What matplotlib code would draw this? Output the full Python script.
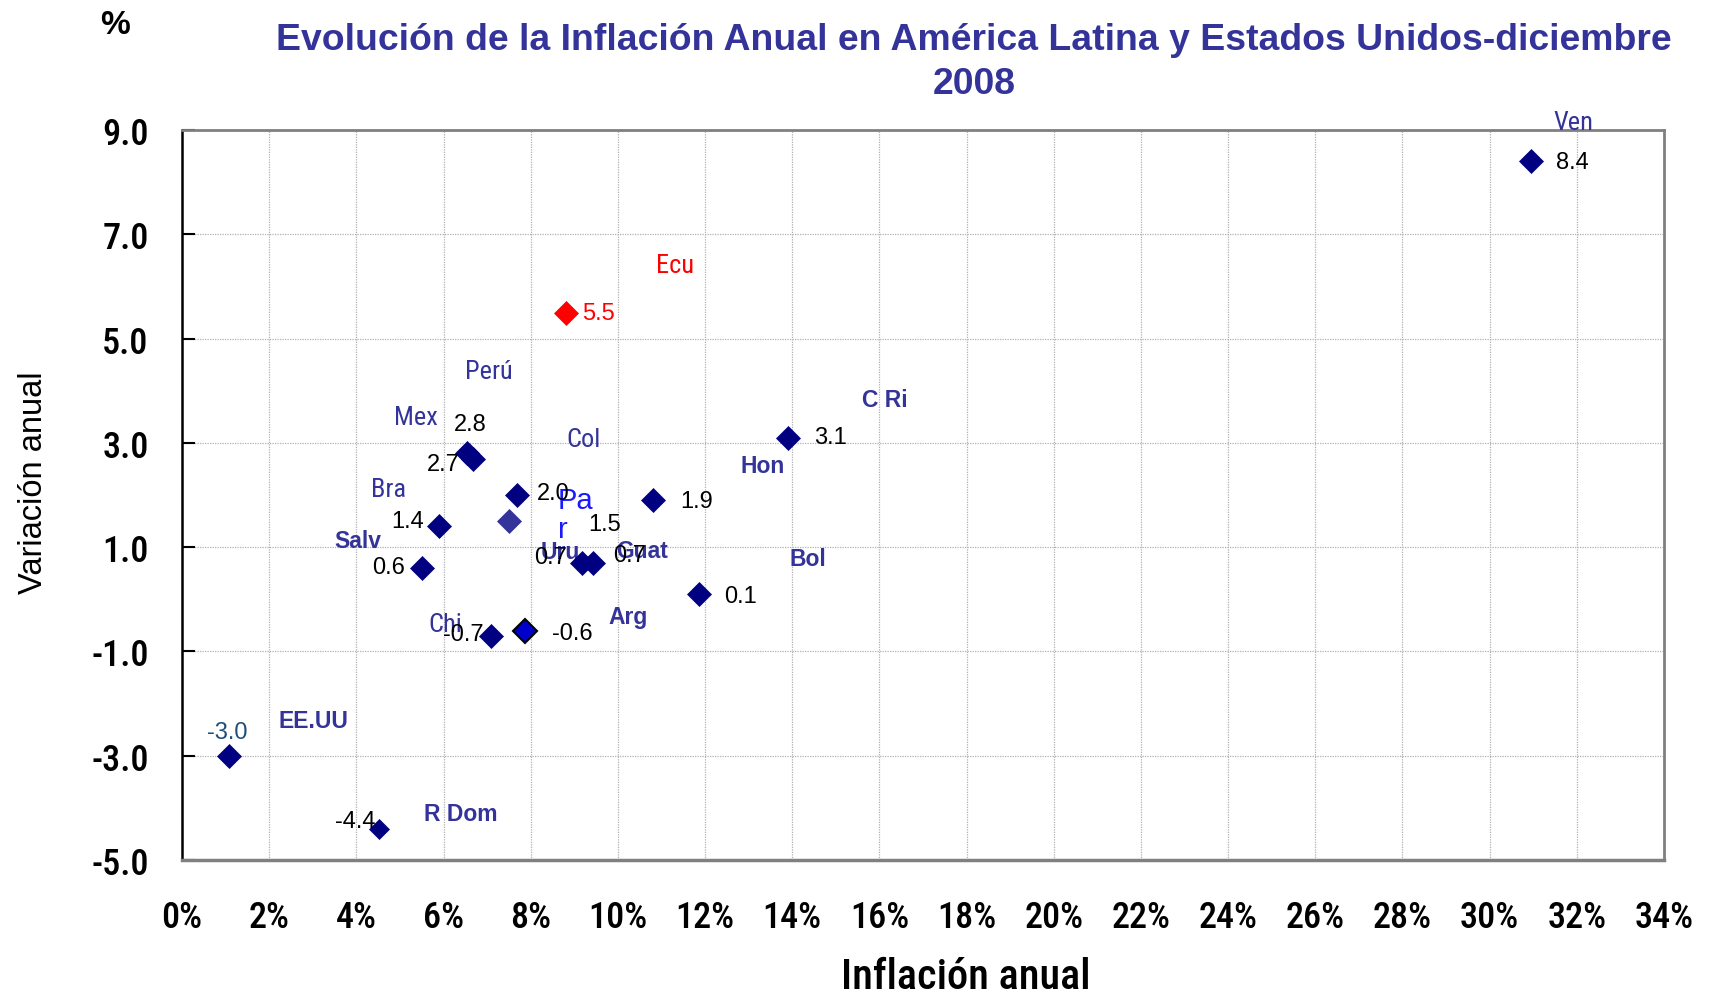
import matplotlib
matplotlib.use("Agg")
import matplotlib.pyplot as plt
from matplotlib.ticker import FuncFormatter

plt.rcParams['font.family'] = ['Liberation Sans', 'DejaVu Sans']
NARROW = ['Roboto Condensed', 'Archivo Narrow', 'Liberation Sans', 'DejaVu Sans']

# data
countries = ["Ven", "Ecu", "Mex", "Perú", "Col", "Par", "Bra", "Salv", "Uru",
             "Guat", "Hon", "C Ri", "Bol", "Chi", "Arg", "EE.UU", "R Dom"]
inflacion = [30.95, 8.82, 6.53, 6.67, 7.68, 7.51, 5.90, 5.50, 9.18,
             9.42, 10.80, 13.90, 11.86, 7.10, 7.88, 1.08, 4.52]
variacion = [8.4, 5.5, 2.8, 2.7, 2.0, 1.5, 1.4, 0.6, 0.7,
             0.7, 1.9, 3.1, 0.1, -0.7, -0.6, -3.0, -4.4]
xticks = list(range(0, 36, 2))
yticks = [-5.0, -3.0, -1.0, 1.0, 3.0, 5.0, 7.0, 9.0]

# layout / style per country
name_pos = {"Ven": (31.93, 9.16), "Ecu": (11.32, 6.41), "Perú": (7.04, 4.38),
            "Mex": (5.36, 3.50), "Col": (9.22, 3.08), "C Ri": (16.13, 3.83),
            "Hon": (13.32, 2.56), "Bra": (4.74, 2.11), "Par": (8.62, 1.62),
            "Salv": (4.03, 1.13), "Guat": (10.56, 0.94), "Uru": (8.69, 0.91),
            "Bol": (14.35, 0.78), "Arg": (10.24, -0.33), "Chi": (6.04, -0.48),
            "EE.UU": (3.01, -2.32), "R Dom": (6.39, -4.10)}
val_off = {"Ven": (41, -1), "Ecu": (32, 0), "Mex": (4, 29), "Perú": (-29, -6),
           "Col": (36, 2), "Par": (95, -3), "Bra": (-32, 5), "Salv": (-33, 1),
           "Uru": (-32, 6), "Guat": (37, 8), "Hon": (44, -1), "C Ri": (43, 1),
           "Bol": (42, -2), "Chi": (-28, 2), "Arg": (47, -2), "EE.UU": (-2, 24),
           "R Dom": (-24, 8)}
bold_names = ["Salv", "EE.UU", "R Dom", "C Ri", "Hon", "Bol", "Guat", "Arg", "Uru"]

NAVY = "#000080"
LABEL = "#333399"

fig = plt.figure(figsize=(17.11, 9.95), dpi=100)
ax = fig.add_axes([182/1711, 1-861/995, (1664-182)/1711, (861-131)/995])

for c, x, y in zip(countries, inflacion, variacion):
    face, edge, ms = NAVY, NAVY, 12.5
    if c == "Ecu":
        face, edge = "red", "red"
    elif c == "Par":
        face, edge = "#333399", "#333399"
    elif c == "Arg":
        face, edge = "#0000cc", "black"
    elif c == "R Dom":
        ms = 10
    ax.plot(x, y, marker="D", ms=ms, mfc=face, mec=edge,
            mew=1.5 if c == "Arg" else 0.5, ls="none", zorder=4)

    vcol = "black"
    if c == "Ecu":
        vcol = "red"
    elif c == "EE.UU":
        vcol = "#1f4e79"
    ax.annotate("%.1f" % y, (x, y), xytext=val_off[c], textcoords="offset pixels",
                ha="center", va="center", fontsize=17, color=vcol, zorder=5)

    nx, ny = name_pos[c]
    if c == "Par":
        ax.text(nx, ny, "Pa\nr", ha="left", va="center", fontsize=21,
                color="#1a1aff", linespacing=1.05, zorder=3)
    elif c in bold_names:
        ax.text(nx, ny, c, ha="center", va="center", fontsize=16.5,
                fontweight="bold", color=LABEL, zorder=3)
    else:
        ax.text(nx, ny, c, ha="center", va="center", fontsize=19,
                family=NARROW, color="red" if c == "Ecu" else LABEL,
                zorder=3, clip_on=False)

ax.set_xlim(0, 34)
ax.set_ylim(-5, 9)
ax.set_xticks(xticks)
ax.set_yticks(yticks)
ax.xaxis.set_major_formatter(FuncFormatter(lambda v, p: "%d%%" % v))
ax.yaxis.set_major_formatter(FuncFormatter(lambda v, p: "%.1f" % v))
ax.grid(True, color="#b0b0b0", ls=(0, (1, 1)), lw=0.9)
ax.set_axisbelow(True)

ax.tick_params(axis="y", direction="in", length=9, width=1.5, color="black", pad=24)
ax.tick_params(axis="x", length=0, pad=28)
for lab in ax.get_xticklabels():
    lab.set_family(NARROW)
    lab.set_fontsize(26)
    lab.set_fontweight("medium")
for lab in ax.get_yticklabels():
    lab.set_family(NARROW)
    lab.set_fontsize(26)
    lab.set_fontweight("medium")

for s in ["top", "right", "bottom"]:
    ax.spines[s].set_color("#808080")
    ax.spines[s].set_linewidth(2)
ax.spines["bottom"].set_linewidth(2.5)
ax.spines["left"].set_color("black")
ax.spines["left"].set_linewidth(1.8)

ax.set_xlabel("Inflación anual", family=NARROW, fontsize=30.5, fontweight="medium",
              va="center")
ax.xaxis.set_label_coords(0.529, -0.16)
ax.set_ylabel("Variación anual", fontsize=23.5, va="center")
ax.yaxis.set_label_coords(-0.1, 0.518)

fig.text(974/1711, 1-62.5/995,
         "Evolución de la Inflación Anual en América Latina y Estados Unidos-diciembre\n2008",
         ha="center", va="center", fontsize=26.9, fontweight="bold", color=LABEL,
         linespacing=1.3)
fig.text(115/1711, 1-25/995, "%", ha="center", va="center", fontsize=24,
         fontweight="bold")

fig.savefig("out.png", dpi=100)
